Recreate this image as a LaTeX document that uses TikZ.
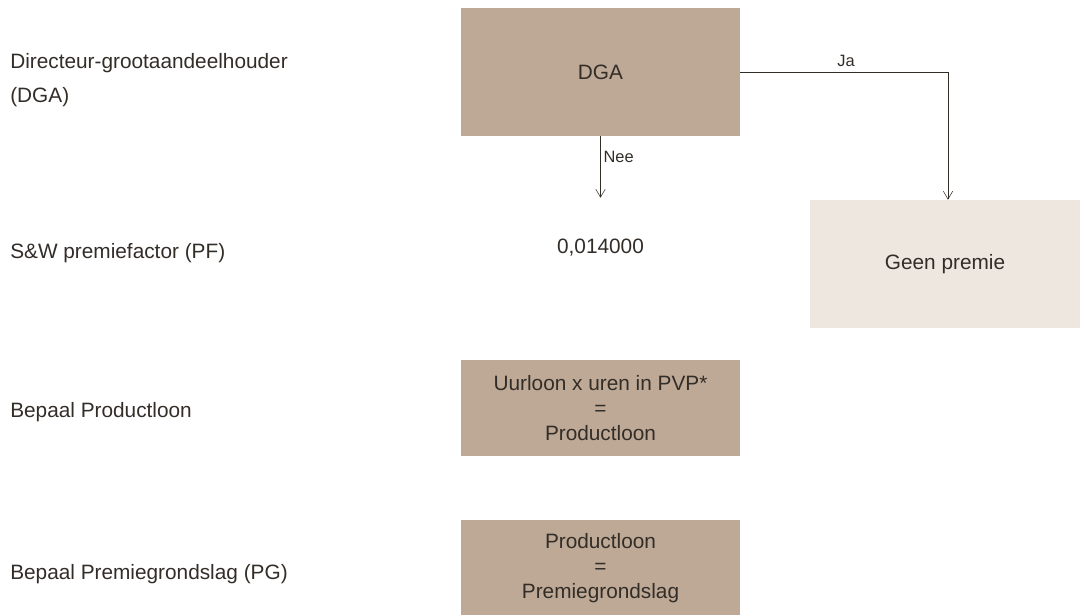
\documentclass[tikz,border=0pt]{standalone}
\usepackage{fontspec}
\setmainfont{Liberation Sans}
\usetikzlibrary{arrows.meta,positioning}
\definecolor{taupe}{RGB}{190,169,150}
\definecolor{sand}{RGB}{237,231,224}
\definecolor{ink}{RGB}{51,45,40}
\begin{document}
\begin{tikzpicture}[x=0.75pt,y=-0.75pt,
      stepbox/.style={rectangle,fill=taupe,inner sep=0pt,minimum width=209.25pt,
                      align=center,text=ink,font=\fontsize{15.6}{18.75}\selectfont},
      endbox/.style={rectangle,fill=sand,inner sep=0pt,minimum width=202.5pt,minimum height=96pt,
                     align=center,text=ink,font=\fontsize{15.6}{18.75}\selectfont},
      rowlabel/.style={anchor=west,align=left,text=ink,inner sep=0pt,
                       font=\fontsize{15.6}{26}\selectfont},
      choice/.style={text=ink,inner sep=1pt,font=\fontsize{12.3}{14}\selectfont},
      arrow/.style={-{Straight Barb[length=6pt,width=7pt]},thin,ink}
    ]
    \useasboundingbox (0,0) rectangle (1080,614);

    % Row labels
    \node[rowlabel] (L1) at (10,80) {Directeur-grootaandeelhouder\\(DGA)};
    \node[rowlabel] (L2) at (10,253) {S\&W premiefactor (PF)};
    \node[rowlabel] (L3) at (10,412) {Bepaal Productloon};
    \node[rowlabel] (L4) at (10,574) {Bepaal Premiegrondslag (PG)};

    % Boxes
    \node[stepbox,minimum height=96pt] (DGA) at (600.5,72) {DGA};
    \node[stepbox,fill=none,minimum height=75pt] (PF) at (600.5,248) {0,014000};
    \node[endbox] (Geen) at (945,264) {Geen premie};
    \node[stepbox,minimum height=72pt] (PL) at (600.5,408)
      {Uurloon x uren in PVP*\\=\\Productloon};
    \node[stepbox,minimum height=72pt] (PG) at (600.5,568)
      {Productloon\\=\\Premiegrondslag};

    % Decisions
    \draw[arrow] (DGA.south) -- (PF.north);
    \draw[arrow] (DGA.east) -- (948,72) -- (Geen.north -| 948,72);

    % Labels on arrows
    \node[choice,anchor=west] (nee) at (602,157) {Nee};
    \node[choice] (ja) at (846,61) {Ja};

  \end{tikzpicture}
\end{document}
